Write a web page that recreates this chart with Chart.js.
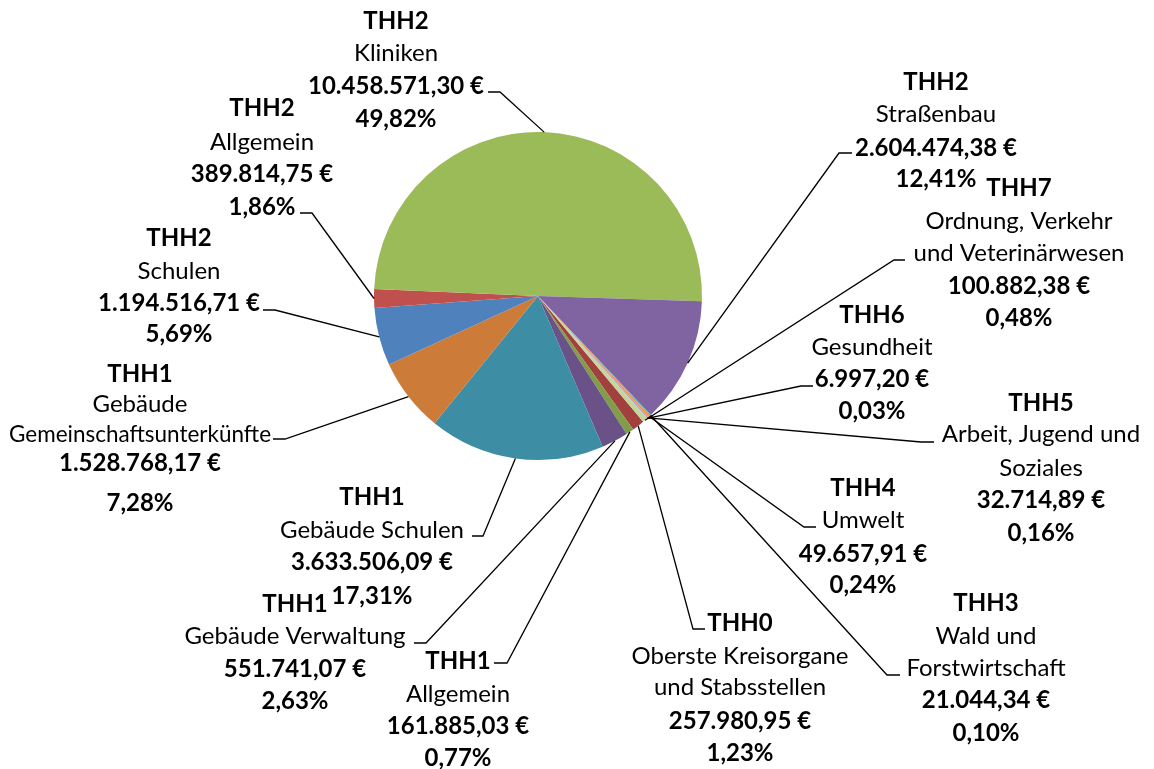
<!DOCTYPE html>
<html><head><meta charset="utf-8">
<script src="https://cdn.jsdelivr.net/npm/chart.js@4.4.1/dist/chart.umd.min.js"></script>
<style>html,body{margin:0;padding:0;background:#fff;overflow:hidden}canvas{display:block}</style>
</head><body>
<canvas id="c" width="1154" height="769"></canvas>
<script>
// ---- data (drawing order = clockwise) ----
const codes = ['THH0','THH1','THH1','THH1','THH1','THH2','THH2','THH2','THH2','THH3','THH4','THH5','THH6','THH7'];
const names = [
  'Oberste Kreisorgane\nund Stabsstellen',
  'Allgemein',
  'Gebäude Verwaltung',
  'Gebäude Schulen',
  'Gebäude\nGemeinschaftsunterkünfte',
  'Schulen',
  'Allgemein',
  'Kliniken',
  'Straßenbau',
  'Wald und\nForstwirtschaft',
  'Umwelt',
  'Arbeit, Jugend und\nSoziales',
  'Gesundheit',
  'Ordnung, Verkehr\nund Veterinärwesen'
];
const values = [257980.95, 161885.03, 551741.07, 3633506.09, 1528768.17, 1194516.71, 389814.75,
                10458571.30, 2604474.38, 21044.34, 49657.91, 32714.89, 6997.20, 100882.38];

// ---- styles / layout ----
const colors = ['#A1403D','#819D48','#6A5289','#3D8DA5','#CC7B38','#4F81BD','#C0504D',
                '#9BBB59','#8064A2','#4BACC6','#F79646','#B3A2C7','#A5C3DE','#C3D69B'];
const labelLayout = [
  {x:740, ys:[622,655,686,720,752], elbow:[693,629], end:[705,629]},
  {x:458, ys:[660,693,725,757], elbow:[507,663], end:[494,663]},
  {x:295, ys:[603,635,668,700], elbow:[426,643], end:[414,643]},
  {x:372, ys:[496,529,561,595], elbow:[483,536], end:[472,536]},
  {x:140, ys:[373,403,433,462,502], elbow:[285,439], end:[273,439], maxW:262},
  {x:179, ys:[237,270,302,333], elbow:[275,310], end:[263,310]},
  {x:262, ys:[107,141,173,206], elbow:[312,213], end:[300,213]},
  {x:396, ys:[20,52,85,118], elbow:[500,92], end:[488,92]},
  {x:936, ys:[81,113,147,178], elbow:[839,153], end:[852,153]},
  {x:986, ys:[602,635,667,699,732], elbow:[887,675], end:[900,675]},
  {x:863, ys:[487,519,553,584], elbow:[804,527], end:[816,527]},
  {x:1041, ys:[402,433,467,499,532], elbow:[921,442], end:[934,442]},
  {x:872, ys:[314,346,378,410], elbow:[801,386], end:[813,386]},
  {x:1019, ys:[187,220,252,285,317], elbow:[894,260], end:[905,260]}
];
const FONT = 'Lato, "Open Sans", sans-serif';

function fmtNum(v, dec){
  const s = v.toFixed(dec);
  let [ip, fp] = s.split('.');
  ip = ip.replace(/\B(?=(\d{3})+(?!\d))/g, '.');
  return fp !== undefined ? ip + ',' + fp : ip;
}
const total = values.reduce((a,b)=>a+b,0);

const labelPlugin = {
  id: 'excelLabels',
  afterDraw(chart){
    const ctx = chart.ctx;
    const meta = chart.getDatasetMeta(0);
    ctx.save();
    meta.data.forEach((arc, i) => {
      const p = arc.getProps(['x','y','startAngle','endAngle','outerRadius'], true);
      const mid = (p.startAngle + p.endAngle) / 2;
      const sx = p.x + Math.cos(mid) * p.outerRadius;
      const sy = p.y + Math.sin(mid) * p.outerRadius;
      const L = labelLayout[i];
      ctx.strokeStyle = '#000';
      ctx.lineWidth = 1.3;
      ctx.beginPath();
      ctx.moveTo(sx, sy);
      ctx.lineTo(L.elbow[0], L.elbow[1]);
      ctx.lineTo(L.end[0], L.end[1]);
      ctx.stroke();

      const lines = [{t: codes[i], b: true}];
      names[i].split('\n').forEach(n => lines.push({t: n, b: false}));
      lines.push({t: fmtNum(values[i], 2) + ' €', b: true});
      lines.push({t: fmtNum(values[i] / total * 100, 2) + '%', b: true});
      ctx.fillStyle = '#000';
      ctx.textAlign = 'center';
      ctx.textBaseline = 'alphabetic';
      lines.forEach((ln, k) => {
        ctx.font = (ln.b ? 'bold ' : '') + '24px ' + FONT;
        if (L.maxW) ctx.fillText(ln.t, L.x, L.ys[k] + 8.5, L.maxW);
        else ctx.fillText(ln.t, L.x, L.ys[k] + 8.5);
      });
    });
    ctx.restore();
  }
};

new Chart(document.getElementById('c'), {
  type: 'pie',
  data: {
    labels: names.map((n, i) => codes[i] + ' ' + n.replace('\n', ' ')),
    datasets: [{
      data: values,
      backgroundColor: colors,
      borderWidth: 0,
      hoverBorderWidth: 0,
      offset: 0,
      hoverOffset: 0
    }]
  },
  options: {
    responsive: false,
    animation: false,
    events: [],
    rotation: 140.11,
    layout: {padding: {left: 374, top: 132, right: 452, bottom: 309}},
    plugins: {legend: {display: false}, tooltip: {enabled: false}}
  },
  plugins: [labelPlugin]
});
</script>
</body></html>
